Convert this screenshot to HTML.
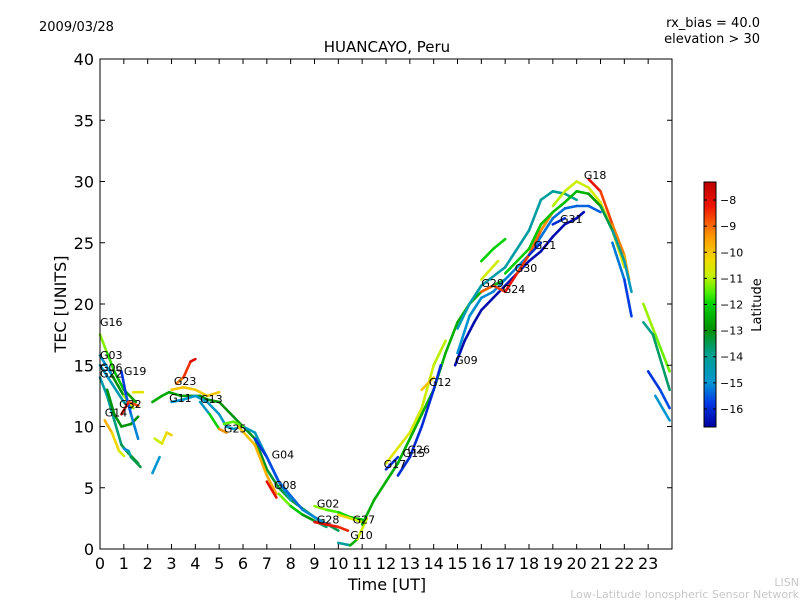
<!DOCTYPE html>
<html><head><meta charset="utf-8"><style>
body{margin:0;background:#fff;width:800px;height:600px;overflow:hidden;font-family:"Liberation Sans","DejaVu Sans",sans-serif}
</style></head><body>
<svg id="chart" width="800" height="600" xmlns="http://www.w3.org/2000/svg" font-family="DejaVu Sans, Liberation Sans, sans-serif">
<rect width="800" height="600" fill="#fff"/>
<text x="39" y="31" font-size="13">2009/03/28</text>
<text x="387" y="52" font-size="15" text-anchor="middle">HUANCAYO, Peru</text>
<text x="760" y="27" font-size="13" text-anchor="end">rx_bias = 40.0</text>
<text x="760" y="43" font-size="13" text-anchor="end">elevation &gt; 30</text>
<text x="66" y="304" font-size="16" text-anchor="middle" transform="rotate(-90 66 304)">TEC [UNITS]</text>
<text x="387" y="590" font-size="16" text-anchor="middle">Time [UT]</text>
<text x="761" y="305" font-size="13" text-anchor="middle" transform="rotate(-90 761 305)">Latitude</text>
<text x="799" y="586" font-size="11" fill="#c8c8c8" text-anchor="end">LISN</text>
<text x="799" y="598" font-size="11" fill="#c8c8c8" text-anchor="end">Low-Latitude Ionospheric Sensor Network</text>
<g id="plot"></g>
</svg>
<script>
const xTicks=[0,1,2,3,4,5,6,7,8,9,10,11,12,13,14,15,16,17,18,19,20,21,22,23];
const yTicks=[0,5,10,15,20,25,30,35,40];
const cbTicks=[-8,-9,-10,-11,-12,-13,-14,-15,-16];
const names=['G16','G03','G06','G22','G14','T1','T2','G19','G32','Y1','D1','T3','G23','Y2','G11','G13','D2','G25','O1','R1','G04','G08','G02','G28','G27','G10','G17','Y3','G26','G09','C1','T4','G29','G24','S1','S2','G30','G18','G18R','F1','F2','E1','E2','E3','E4','G21','G31','G12','G15'];
const tracks=[
[[0,17.5],[0.3,16],[0.6,14.5],[1,13],[1.5,12]],
[[0,15.8],[0.5,14.2],[1,12.5],[1.4,11.5]],
[[0,15],[0.5,13.5],[1,12],[1.3,11.5]],
[[0,14],[0.3,12.5],[0.6,10.5],[0.9,8.5],[1.2,7.8],[1.6,7]],
[[0.2,10.5],[0.5,9.5],[0.8,8],[1,7.6]],
[[0.3,13],[0.6,11],[0.9,10],[1.3,10.2],[1.6,10.8]],
[[1,8.2],[1.2,8],[1.3,7.5],[1.7,6.7]],
[[0.9,14.5],[1.1,12.5],[1.3,11],[1.6,9]],
[[0.9,11],[1.2,12],[1.6,11.7]],
[[1.4,12.8],[1.8,12.8]],
[[2.2,6.2],[2.5,7.5]],
[[2.2,12],[2.6,12.5],[2.9,12.8],[3.4,12.5],[3.8,12.5],[4.2,12.5],[4.5,12.2],[5,12],[5.5,11],[6,10],[6.5,9],[7,6.5],[7.5,5],[8,4],[9,2.6],[10,1.5]],
[[3.2,13.5],[3.5,14],[3.8,15.3],[4,15.5]],
[[3,13],[3.5,13.2],[4,13],[4.5,12.5],[5,12.8]],
[[3,12],[3.5,12.2],[4,12.5],[4.5,12],[5,11],[5.3,10],[5.6,9.8],[6,10],[6.5,9.5],[7,7.5],[7.5,5.5],[8,4]],
[[4.2,12],[4.6,11],[5,9.8],[5.3,9.5]],
[[2.3,9],[2.6,8.6],[2.8,9.5],[3,9.3]],
[[5.2,10.2],[5.6,10.4],[6,10]],
[[5.8,10],[6.5,8.5],[7,6],[7.4,4.5]],
[[7,5.5],[7.4,4.2]],
[[6.5,9],[7,7.5],[7.5,5.5],[8.5,3.2],[9.5,2]],
[[7.5,4.5],[8,3.5],[8.5,2.8],[9,2.3],[9.5,1.8]],
[[9,3.5],[9.5,3.2],[10,3],[10.5,2.6],[11,2.4]],
[[9,2.2],[9.5,2],[10,1.8],[10.4,1.5]],
[[10,2.8],[10.5,2.5],[11,2.2]],
[[10,0.5],[10.5,0.3],[10.8,0.8],[11.2,2.5]],
[[11,2],[11.5,4],[12,5.5],[12.5,7],[13,9],[13.5,11],[14,13],[14.5,16],[15,18.5],[15.5,20],[16,21],[16.5,21.5],[17,22]],
[[12,7],[13,9.5],[13.5,11.5],[14,15],[14.5,17]],
[[12.5,6],[13,7.5],[13.5,10],[14,13],[14.3,15]],
[[14.9,15],[15.3,17],[15.7,18.5],[16,19.5],[16.5,20.5],[17,21.5],[17.5,22.5],[18,23.5],[18.5,24.3],[19,25.5],[19.5,26.5],[20,27],[20.3,27.5]],
[[15,16],[15.5,19],[16,20.5],[16.5,21],[17,22],[18,24],[18.5,25.5],[19,27],[19.5,27.8],[20,28],[20.5,28],[21,27.5]],
[[15,18],[15.5,20],[16,21.5],[17,23],[18,26],[18.5,28.5],[19,29.2],[19.5,29],[20,28.5]],
[[16,21],[16.5,21.5],[17,21]],
[[17,21],[17.5,22.5],[18,24],[18.5,26],[19,27.5]],
[[16,23.5],[16.5,24.5],[17,25.3]],
[[16,22],[16.7,23.5]],
[[17,22.5],[17.5,23.5],[18,24.5],[18.5,26.5],[19,27.5],[19.5,28.3],[20,29.2],[20.5,29],[21,28]],
[[19,28],[19.5,29.2],[20,30],[20.5,29.5],[21,28.3],[21.5,26],[22,23]],
[[20.5,30.2],[21,29.2],[21.5,26.5],[22,24],[22.2,22]],
[[20.5,29],[21,28],[21.5,26],[22,23.5],[22.3,21]],
[[21.5,25],[22,22],[22.3,19]],
[[22.8,20],[23.3,17.5],[23.9,14.5]],
[[22.8,18.5],[23.2,17.5],[23.9,13]],
[[23,14.5],[23.5,13],[23.9,11.5]],
[[23.3,12.5],[23.9,10.5]],
[[18,24],[18.5,25]],
[[19,26.5],[19.5,27]],
[[13.5,13],[14,14]],
[[12,6.5],[12.5,7.5]]
];
const lats=[[-11,-13],[-16,-10],[-15,-14],[-14.5,-13],[-9.5,-11],[-13,-13],[-15.5,-13],[-16,-15],[-8,-9],[-10.5,-10.5],[-15,-15],[-12.5,-13.5],[-9.5,-7.5],[-10,-10],[-15,-14.5],[-16,-8],[-11,-10],[-11.5,-11.5],[-10,-9.5],[-8,-8],[-16,-15],[-11,-14],[-11,-12.5],[-8,-8.5],[-10,-11],[-15,-10],[-12.5,-12.5],[-10.5,-11],[-16,-16],[-16.5,-16.5],[-15,-15.5],[-14.5,-14],[-9,-8.5],[-8,-9.5],[-12,-12],[-10.5,-11],[-12,-12.5],[-11,-10.5],[-7.8,-10],[-12.5,-15],[-15,-16],[-11,-11.5],[-14,-13.5],[-16,-15.5],[-15,-15],[-16,-16],[-16,-16],[-10,-10],[-16,-16]];
const labels=[['G16',0,18.2],['G03',0,15.5],['G06',0,14.5],['G22',0,14],['G19',1,14.2],['G14',0.2,10.8],['G32',0.8,11.5],['G23',3.1,13.4],['G11',2.9,12],['G13',4.2,11.9],['G25',5.2,9.5],['G04',7.2,7.4],['G08',7.3,4.9],['G02',9.1,3.4],['G28',9.1,2.1],['G27',10.6,2.1],['G10',10.5,0.8],['G17',11.9,6.6],['G26',12.9,7.8],['G15',12.7,7.5],['G12',13.8,13.3],['G09',14.9,15.1],['G29',16,21.4],['G24',16.9,20.9],['G30',17.4,22.6],['G21',18.2,24.5],['G31',19.3,26.6],['G18',20.3,30.2]];
const X0=100,X1=672,Y0=549,Y1=59,LATMIN=-16.69,LATMAX=-7.31;
const xs=h=>X0+h*(X1-X0)/24, ys=v=>Y0-v*(Y0-Y1)/40;
const stops=[[0,[0,0,160]],[0.1,[0,60,230]],[0.18,[0,150,210]],[0.3,[0,160,140]],[0.4,[0,145,0]],[0.5,[0,210,0]],[0.55,[80,240,0]],[0.62,[200,240,0]],[0.68,[240,220,0]],[0.78,[255,150,0]],[0.9,[240,20,0]],[1,[190,0,0]]];
function cmap(t){t=Math.max(0,Math.min(1,t));for(let i=1;i<stops.length;i++){if(t<=stops[i][0]){const a=stops[i-1],b=stops[i],f=(t-a[0])/(b[0]-a[0]);const c=a[1].map((v,k)=>Math.round(v+(b[1][k]-v)*f));return `rgb(${c})`;}}return 'rgb(190,0,0)';}
const latColor=l=>cmap((l-LATMIN)/(LATMAX-LATMIN));
const NS='http://www.w3.org/2000/svg';
const g=document.getElementById('plot');
function mk(tag,at,par){const e=document.createElementNS(NS,tag);for(const k in at)e.setAttribute(k,at[k]);(par||g).appendChild(e);return e;}
tracks.forEach((tr,i)=>{
  const grp=mk('g',{});
  
  
  const n=tr.length;
  for(let k=0;k<n-1;k++){
    const t=n>2?(k+0.5)/(n-1):0.5;
    const l=lats[i][0]+(lats[i][1]-lats[i][0])*t;
    mk('line',{x1:xs(tr[k][0]),y1:ys(tr[k][1]),x2:xs(tr[k+1][0]),y2:ys(tr[k+1][1]),stroke:latColor(l),'stroke-width':2.6,'stroke-linecap':'round'},grp);
  }
});
labels.forEach(l=>{const t=mk('text',{x:xs(l[1]),y:ys(l[2]),'font-size':11});t.textContent=l[0];

});
const fr=mk('rect',{x:X0,y:Y1,width:X1-X0,height:Y0-Y1,fill:'none',stroke:'#000','stroke-width':1});


xTicks.forEach(h=>{const x=xs(h);mk('line',{x1:x,y1:Y0,x2:x,y2:Y0-5,stroke:'#000'});mk('line',{x1:x,y1:Y1,x2:x,y2:Y1+5,stroke:'#000'});
const t=mk('text',{x:x,y:Y0+20,'font-size':16,'text-anchor':'middle'});t.textContent=h;

});
yTicks.forEach(v=>{const y=ys(v);mk('line',{x1:X0,y1:y,x2:X0+5,y2:y,stroke:'#000'});mk('line',{x1:X1,y1:y,x2:X1-5,y2:y,stroke:'#000'});
const t=mk('text',{x:X0-6,y:y+6,'font-size':16,'text-anchor':'end'});t.textContent=v;

});
const CX=704,CW=12,CT=182,CB=427;
const cb=mk('g',{});


for(let y=CT;y<CB;y++){mk('rect',{x:CX,y:y,width:CW,height:1.2,fill:latColor(LATMAX-(y-CT+0.5)/(CB-CT)*(LATMAX-LATMIN))},cb);}
mk('rect',{x:CX,y:CT,width:CW,height:CB-CT,fill:'none',stroke:'#000'},cb);
const cy=l=>CT+(LATMAX-l)/(LATMAX-LATMIN)*(CB-CT);
cbTicks.forEach(l=>{const y=cy(l);mk('line',{x1:CX+CW-3,y1:y,x2:CX+CW,y2:y,stroke:'#000'},cb);mk('line',{x1:CX,y1:y,x2:CX+3,y2:y,stroke:'#000'},cb);
const t=mk('text',{x:CX+CW+4,y:y+4,'font-size':11},cb);t.textContent='\u2212'+Math.abs(l);

});
</script>
</body></html>
